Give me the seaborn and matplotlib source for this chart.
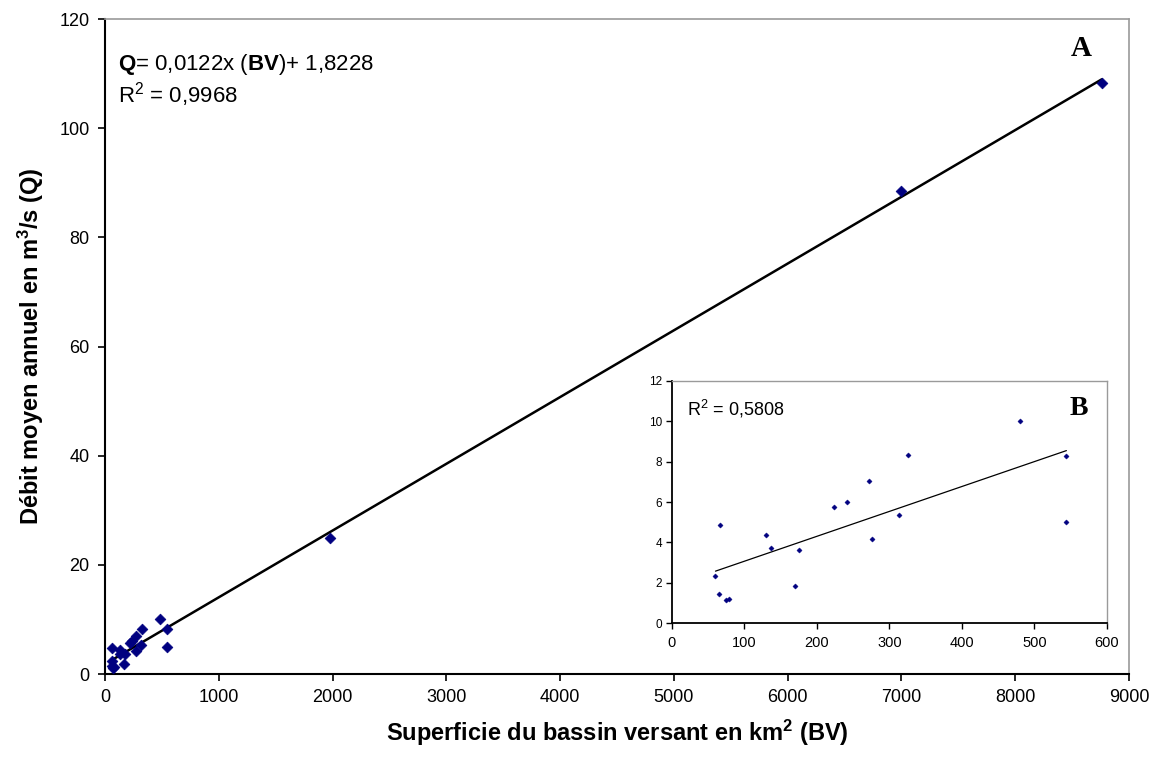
import numpy as np
import pandas as pd
import matplotlib
matplotlib.use('Agg')
import matplotlib.pyplot as plt
import seaborn as sns

# Petits bassins versants (< 600 km2) : superficie (km2) et debit moyen (m3/s)
petits_bv = [60, 66, 65, 74, 79, 129, 136, 170, 175, 223, 241, 272, 276, 313, 325, 480, 544, 544]
petits_q = [2.34, 4.86, 1.46, 1.13, 1.21, 4.38, 3.72, 1.84, 3.63, 5.73, 5.98, 7.05, 4.15, 5.36, 8.33, 10.02, 8.28, 5.0]

# Grands bassins versants
grands_bv = [1980, 7000, 8760]
grands_q = [25.0, 88.5, 108.3]

eq_texte = '$\\mathbf{Q}$= 0,0122x ($\\mathbf{BV}$)+ 1,8228'
r2_a = 'R$^2$ = 0,9968'
r2_b = 'R$^2$ = 0,5808'

data_b = pd.DataFrame({'BV': petits_bv, 'Q': petits_q})
data_a = pd.DataFrame({'BV': petits_bv + grands_bv, 'Q': petits_q + grands_q})

sns.set_style('ticks')
plt.rcParams['font.family'] = ['Liberation Sans', 'DejaVu Sans']
plt.rcParams['mathtext.fontset'] = 'custom'
plt.rcParams['mathtext.rm'] = 'Liberation Sans'
plt.rcParams['mathtext.bf'] = 'Liberation Sans:bold'
plt.rcParams['mathtext.it'] = 'Liberation Sans:italic'
for k in ['text.color', 'axes.labelcolor', 'xtick.color', 'ytick.color']:
    plt.rcParams[k] = 'black'

bleu = '#000080'
gris = '#9a9a9a'

fig = plt.figure(figsize=(11.6, 7.57), dpi=100)
ax = fig.add_axes([0.0905, 0.1096, 0.8828, 0.8653])

# Graphique A
sns.regplot(data=data_a, x='BV', y='Q', ax=ax, scatter=False, ci=None,
            line_kws={'color': 'black', 'lw': 1.8})
sns.scatterplot(data=data_a, x='BV', y='Q', ax=ax, marker='D', s=30,
                color=bleu, edgecolor=bleu, linewidth=0.5, zorder=3)
ax.set_xlim(0, 9000)
ax.set_ylim(0, 120)
ax.set_xticks(range(0, 9001, 1000))
ax.set_yticks(range(0, 121, 20))
ax.tick_params(labelsize=13, length=5, width=1.2, direction='out', pad=6)
ax.set_xlabel('Superficie du bassin versant en km$^{\\mathbf{2}}$ (BV)',
              fontsize=17, fontweight='bold', labelpad=8)
ax.set_ylabel('Débit moyen annuel en m$^{\\mathbf{3}}$/s (Q)',
              fontsize=17, fontweight='bold', labelpad=10)
for s in ['left', 'bottom']:
    ax.spines[s].set_color('black')
    ax.spines[s].set_linewidth(1.5)
for s in ['top', 'right']:
    ax.spines[s].set_color(gris)
    ax.spines[s].set_linewidth(1.2)

ax.text(0.013, 0.93, eq_texte, transform=ax.transAxes, fontsize=16, va='center')
ax.text(0.013, 0.885, r2_a, transform=ax.transAxes, fontsize=16, va='center')
ax.text(0.953, 0.955, 'A', transform=ax.transAxes, fontsize=21, fontweight='bold',
        family=['Liberation Serif', 'DejaVu Serif'], ha='center', va='center')

# Graphique B (encart)
axb = fig.add_axes([0.5793, 0.177, 0.375, 0.3197])
sns.regplot(data=data_b, x='BV', y='Q', ax=axb, scatter=False, ci=None,
            line_kws={'color': 'black', 'lw': 0.9})
sns.scatterplot(data=data_b, x='BV', y='Q', ax=axb, marker='D', s=7,
                color=bleu, edgecolor=bleu, linewidth=0.3, zorder=3)
axb.set_xlim(0, 600)
axb.set_ylim(0, 12)
axb.set_xticks(range(0, 601, 100))
axb.set_yticks(range(0, 13, 2))
axb.tick_params(axis='x', labelsize=10.5, length=4, width=1, pad=5)
axb.tick_params(axis='y', labelsize=8.5, length=4, width=1, pad=3)
axb.set_xlabel('')
axb.set_ylabel('')
for s in ['left', 'bottom']:
    axb.spines[s].set_color('black')
    axb.spines[s].set_linewidth(1.3)
for s in ['top', 'right']:
    axb.spines[s].set_color(gris)
    axb.spines[s].set_linewidth(1)
axb.text(0.035, 0.885, r2_b, transform=axb.transAxes, fontsize=13, va='center')
axb.text(0.935, 0.885, 'B', transform=axb.transAxes, fontsize=20, fontweight='bold',
         family=['Liberation Serif', 'DejaVu Serif'], ha='center', va='center')

fig.savefig('out.png', dpi=100)
